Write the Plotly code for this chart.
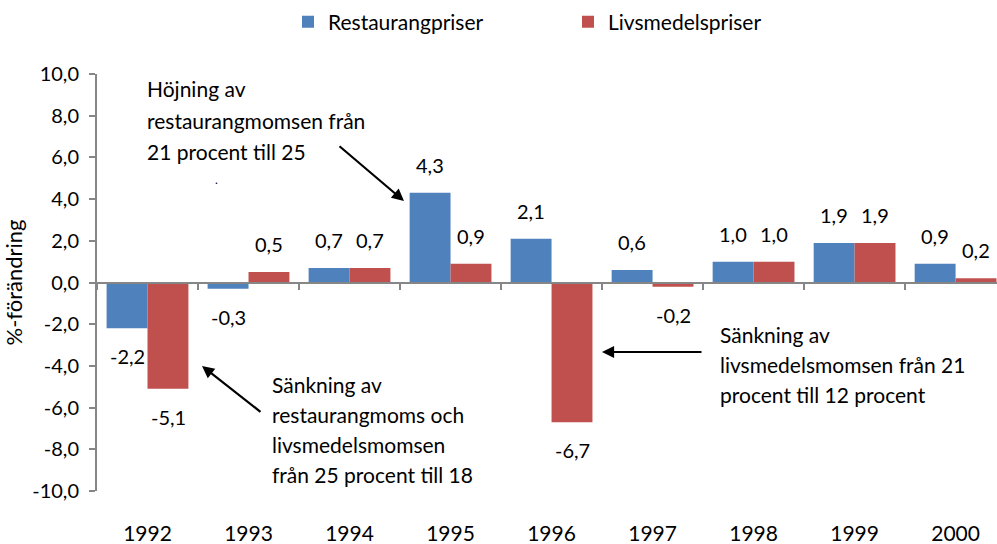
import plotly.graph_objects as go

years = ["1992", "1993", "1994", "1995", "1996", "1997", "1998", "1999", "2000"]
restaurang = [-2.2, -0.3, 0.7, 4.3, 2.1, 0.6, 1.0, 1.9, 0.9]
livsmedel = [-5.1, 0.5, 0.7, 0.9, -6.7, -0.2, 1.0, 1.9, 0.2]
y_ticks = [-10, -8, -6, -4, -2, 0, 2, 4, 6, 8, 10]

FONT = "Lato, 'Liberation Sans', sans-serif"
BLUE = "#4F81BD"
RED = "#C0504D"
GRAY = "#868686"

W, H = 997, 544
L, R, T, B = 97, 0, 74, 53
PW, PH = W - L - R, H - T - B


def px(x):
    return (x - L) / PW


def py(y):
    return (H - B - y) / PH


def fmt(v):
    return f"{v:.1f}".replace(".", ",")


fig = go.Figure()
fig.add_trace(go.Bar(name="Restaurangpriser", x=years, y=restaurang,
                     marker=dict(color=BLUE, line=dict(width=0))))
fig.add_trace(go.Bar(name="Livsmedelspriser", x=years, y=livsmedel,
                     marker=dict(color=RED, line=dict(width=0))))
# invisible trace carrying the bottom category labels
fig.add_trace(go.Scatter(x=years, y=[0] * len(years), xaxis="x2", mode="markers",
                         marker=dict(opacity=0), showlegend=False, hoverinfo="skip"))

annotations = []
for series, off in ((restaurang, -0.203), (livsmedel, 0.203)):
    for i, v in enumerate(series):
        annotations.append(dict(
            x=i + off, y=v, xref="x", yref="y", text=fmt(v), showarrow=False,
            yshift=28 if v >= 0 else -28, yanchor="middle",
            font=dict(family=FONT, size=20, color="#000000")))

notes = [
    (["Höjning av", "restaurangmomsen från", "21 procent till 25"], 145, 88, 32),
    (["Sänkning av", "restaurangmoms och", "livsmedelsmomsen", "från 25 procent till 18"], 270, 384, 30),
    (["Sänkning av", "livsmedelsmomsen från 21", "procent till 12 procent"], 718, 334, 30),
]
for lines, x0, y0, step in notes:
    for k, line in enumerate(lines):
        annotations.append(dict(
            x=px(x0), y=py(y0 + k * step), xref="paper", yref="paper", text=line,
            showarrow=False, xanchor="left", yanchor="middle", align="left",
            font=dict(family=FONT, size=21, color="#000000")))
annotations.append(dict(x=px(213), y=py(170), xref="paper", yref="paper", text=".",
                        showarrow=False, font=dict(family=FONT, size=12, color="#000000")))

arrows = [((338, 145), (404, 201)), ((262, 413), (202, 366)), ((703, 352), (602, 352))]
for (tx, ty), (hx, hy) in arrows:
    annotations.append(dict(
        x=px(hx), y=py(hy), ax=tx - hx, ay=ty - hy, xref="paper", yref="paper",
        axref="pixel", ayref="pixel", text="", showarrow=True,
        arrowhead=2, arrowsize=1.1, arrowwidth=2.2, arrowcolor="#000000"))

fig.update_layout(
    width=W, height=H,
    margin=dict(l=L, r=R, t=T, b=B, autoexpand=False),
    paper_bgcolor="white", plot_bgcolor="white",
    barmode="group", bargap=0.19, bargroupgap=0,
    font=dict(family=FONT, size=20, color="#000000"),
    showlegend=True,
    legend=dict(orientation="h", x=px(288), y=py(22), xanchor="left", yanchor="middle",
                entrywidth=235, entrywidthmode="pixels",
                font=dict(family=FONT, size=21, color="#000000"),
                itemsizing="constant", traceorder="normal"),
    xaxis=dict(type="category", range=[-0.5, 8.41], anchor="free", position=0.5,
               showline=True, linecolor=GRAY, linewidth=2,
               ticks="outside", tickson="boundaries", ticklen=6, tickcolor=GRAY, tickwidth=2,
               showticklabels=False, showgrid=False, zeroline=False, fixedrange=True),
    xaxis2=dict(type="category", matches="x", overlaying="x", anchor="y", side="bottom",
                showline=False, ticks="", showgrid=False, zeroline=False,
                tickfont=dict(family=FONT, size=21, color="#000000"), ticklabelstandoff=28),
    yaxis=dict(range=[-10, 10], tickvals=y_ticks, ticktext=[fmt(v) for v in y_ticks],
               showline=True, linecolor=GRAY, linewidth=2,
               ticks="outside", ticklen=6, tickcolor=GRAY, tickwidth=2,
               showgrid=False, zeroline=False, ticklabelstandoff=6,
               tickfont=dict(family=FONT, size=20, color="#000000"),
               title=dict(text="%-förändring", font=dict(family=FONT, size=22, color="#000000"),
                          standoff=4)),
    annotations=annotations,
)

fig.write_html("out.html", config={"displayModeBar": False},
               post_script=["document.body.style.margin='0';"])
